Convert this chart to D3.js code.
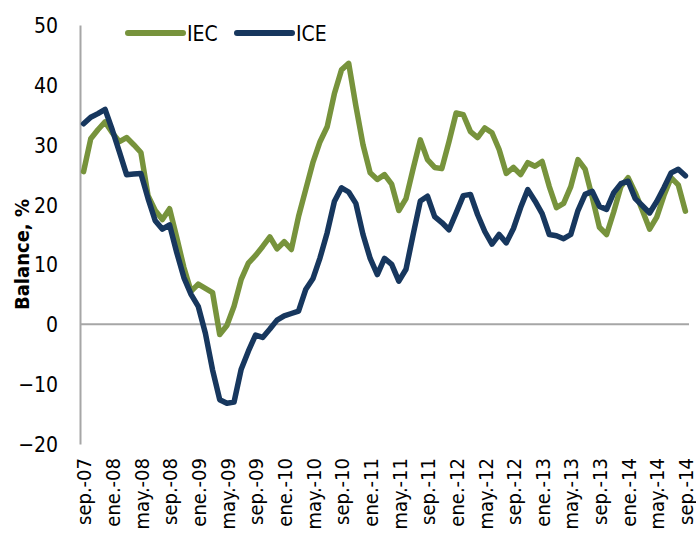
<!DOCTYPE html>
<html>
<head>
<meta charset="utf-8">
<script src="https://cdn.jsdelivr.net/npm/d3@7"></script>
<style>
  html, body { margin: 0; padding: 0; background: #fff; }
  svg { display: block; }
  text { font-family: 'DejaVu Sans Condensed', 'DejaVu Sans', sans-serif; font-stretch: condensed; fill: #000; }
</style>
</head>
<body>
<svg id="chart" width="696" height="534"></svg>
<script>
// ---- data ----
const monthNames = ["sep.", "oct.", "nov.", "dic.", "ene.", "feb.", "mar.", "abr.", "may.", "jun.", "jul.", "ago."];
const startYear = 7; // sep.-07 .. sep.-14, monthly
const categories = d3.range(85).map(i => {
  const m = i % 12;
  const yr = startYear + Math.floor((i + 8) / 12);
  return monthNames[m] + "-" + String(yr).padStart(2, "0");
});
const tickLabels = ["sep.-07","ene.-08","may.-08","sep.-08","ene.-09","may.-09","sep.-09","ene.-10","may.-10","sep.-10","ene.-11","may.-11","sep.-11","ene.-12","may.-12","sep.-12","ene.-13","may.-13","sep.-13","ene.-14","may.-14","sep.-14"];
const yTicks = [-20, -10, 0, 10, 20, 30, 40, 50];
const seriesNames = ["IEC", "ICE"];
const iec = [25.5,31,32.5,33.8,32,30.5,31.2,30,28.7,21.5,19,17.5,19.3,14.5,9.5,5.5,6.7,6,5.3,-1.7,
  -0.2,3,7.5,10.2,11.5,13,14.6,12.6,13.8,12.5,18,22.5,27,30.5,33,38.5,42.5,43.6,36.5,30,
  25.3,24.2,25,23.4,19,21,26,30.8,27.5,26.2,26,30.5,35.3,35,32.2,31.2,32.8,32,29.2,25.2,
  26.2,25,27,26.4,27.2,23,19.5,20.2,23,27.5,25.9,21.2,16.2,15,18.8,23,24.5,22,19,15.9,
  17.9,21.5,24.5,23.3,18.9];
const ice = [33.5,34.6,35.2,35.9,32.5,28.8,25,25.1,25.2,21,17.3,15.9,16.6,12,7.8,5,3,-1.5,-7.6,-12.6,
  -13.2,-13,-7.5,-4.5,-1.8,-2.2,-0.8,0.7,1.4,1.8,2.2,5.8,7.6,11.1,15.3,20.5,22.8,22.1,20.2,15,
  11,8.3,11,10,7.2,9.2,15,20.6,21.4,18,17,15.8,18.6,21.5,21.7,18.3,15.5,13.4,15,13.6,
  16,19.5,22.5,20.6,18.5,15,14.8,14.3,15,19,21.7,22.2,19.7,19.2,22,23.5,23.9,21,19.8,18.6,
  20.5,22.8,25.3,25.9,24.8];
const colors = ["#77933C", "#17375E"];

// ---- layout ----
const svg = d3.select("#chart");
const mLeft = 80, mRight = 689, mTop = 25, mBottom = 444;
const x = d3.scalePoint().domain(categories).range([mLeft, mRight]).padding(0.5);
const y = d3.scaleLinear().domain([-20, 50]).range([mBottom, mTop]);

// y axis
const yAxis = d3.axisLeft(y).tickValues(yTicks).tickSize(0).tickPadding(22).tickFormat(d3.format("d"));
const gy = svg.append("g").attr("transform", `translate(${mLeft},0)`).call(yAxis);
gy.select(".domain").attr("stroke", "#a6a6a6").attr("stroke-width", 2);
gy.selectAll("text").attr("font-size", 21).attr("font-family", null).attr("dy", "0.36em");

// zero line
svg.append("line").attr("x1", mLeft).attr("x2", mRight).attr("y1", y(0)).attr("y2", y(0))
  .attr("stroke", "#a6a6a6").attr("stroke-width", 2);

// x labels
const xAxis = d3.axisBottom(x).tickValues(tickLabels).tickSize(0);
const gx = svg.append("g").attr("transform", `translate(0,${mBottom})`).call(xAxis);
gx.select(".domain").remove();
gx.selectAll("text")
  .attr("font-size", 20).attr("font-family", null)
  .attr("text-anchor", "end")
  .attr("transform", "rotate(-90)")
  .attr("x", -14).attr("y", 0).attr("dy", "0.36em");

// y title
svg.append("text").attr("transform", `translate(22,${(mTop + mBottom) / 2 + 20}) rotate(-90)`)
  .attr("text-anchor", "middle").attr("dy", "0.36em")
  .attr("font-size", 20).attr("font-weight", "bold").text("Balance, %");

// lines
const line = d3.line().x((d, i) => x(categories[i])).y(d => y(d));
[iec, ice].forEach((s, k) => {
  svg.append("path").datum(s).attr("d", line).attr("fill", "none")
    .attr("stroke", colors[k]).attr("stroke-width", 5.5)
    .attr("stroke-linejoin", "round").attr("stroke-linecap", "round");
});

// legend
const legX = [128, 237];
seriesNames.forEach((n, k) => {
  svg.append("line").attr("x1", legX[k]).attr("x2", legX[k] + 55).attr("y1", 33).attr("y2", 33)
    .attr("stroke", colors[k]).attr("stroke-width", 6).attr("stroke-linecap", "round");
  svg.append("text").attr("x", legX[k] + 59).attr("y", 33).attr("dy", "0.36em")
    .attr("font-size", 21).text(n);
});
</script>
</body>
</html>
